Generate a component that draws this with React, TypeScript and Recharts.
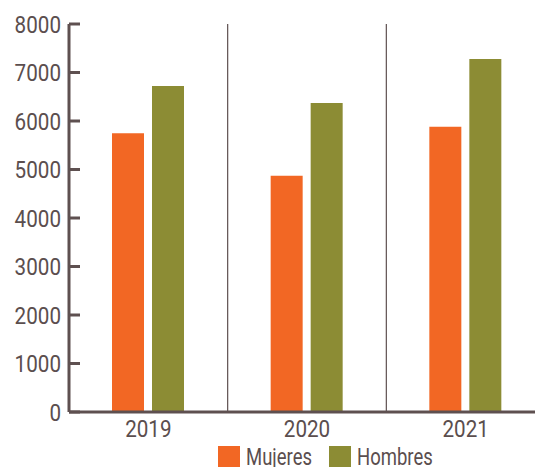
import {
  BarChart,
  Bar,
  XAxis,
  YAxis,
  CartesianGrid,
  Legend,
} from 'recharts';

const years = ['2019', '2020', '2021'];
const mujeres = [5750, 4870, 5880];
const hombres = [6720, 6370, 7280];
const yTicks = [0, 1000, 2000, 3000, 4000, 5000, 6000, 7000, 8000];

const data = years.map((year, i) => ({
  year,
  Mujeres: mujeres[i],
  Hombres: hombres[i],
}));

const AXIS = '#5e5050';
const TEXT = '#5b4e4e';
const FONT = 'Roboto, sans-serif';
const COLORS = { Mujeres: '#f26724', Hombres: '#8c8c34' };

// Roboto "condensada" a mano con scaleX
const YTick = ({ x, y, payload }: any) => (
  <g transform={`translate(${x},${y})`}>
    <text
      transform="scale(0.86,1)"
      textAnchor="end"
      dy="0.355em"
      fontSize={24}
      fontFamily={FONT}
      fill={TEXT}
    >
      {payload.value}
    </text>
  </g>
);

const XTick = ({ x, y, payload }: any) => (
  <g transform={`translate(${x},${y})`}>
    <text
      transform="scale(0.86,1)"
      textAnchor="middle"
      dy="0.71em"
      fontSize={24}
      fontFamily={FONT}
      fill={TEXT}
    >
      {payload.value}
    </text>
  </g>
);

const legendItems = [
  { key: 'Mujeres', width: 64 },
  { key: 'Hombres', width: 75 },
] as const;

const renderLegend = () => (
  <div
    style={{
      height: 48,
      paddingTop: 4,
      paddingLeft: 218,
      boxSizing: 'border-box',
      display: 'flex',
      gap: 19,
      fontFamily: FONT,
      fontSize: 24,
      color: TEXT,
      lineHeight: '22px',
    }}
  >
    {legendItems.map(({ key, width }) => (
      <div key={key} style={{ display: 'flex', alignItems: 'flex-start' }}>
        <span
          style={{
            width: 22,
            height: 22,
            background: COLORS[key],
            marginRight: 6,
            display: 'inline-block',
          }}
        />
        <span style={{ width, display: 'inline-block', whiteSpace: 'nowrap' }}>
          <span
            style={{
              display: 'inline-block',
              transform: 'scaleX(0.77)',
              transformOrigin: 'left',
            }}
          >
            {key}
          </span>
        </span>
      </div>
    ))}
  </div>
);

const App = () => {
  return (
    <div
      style={{
        position: 'absolute',
        left: 0,
        top: 0,
        width: 535,
        height: 467,
        overflow: 'hidden',
        background: '#fff',
      }}
    >
      <BarChart
        width={555}
        height={490}
        data={data}
        margin={{ top: 24, right: 10, left: 0, bottom: 0 }}
        barGap={8}
        barSize={32}
      >
        <CartesianGrid
          horizontal={false}
          stroke={AXIS}
          strokeWidth={1.2}
          verticalCoordinatesGenerator={({ offset }) =>
            years
              .slice(1)
              .map((_, i) => (offset?.left ?? 0) + ((i + 1) * (offset?.width ?? 0)) / years.length)
          }
        />
        <XAxis
          dataKey="year"
          height={30}
          tickLine={false}
          tickSize={0}
          tickMargin={8}
          axisLine={{ stroke: AXIS, strokeWidth: 3 }}
          tick={<XTick />}
        />
        <YAxis
          width={69}
          domain={[0, 8000]}
          ticks={yTicks}
          interval={0}
          tickSize={-11}
          tickMargin={19}
          axisLine={{ stroke: AXIS, strokeWidth: 3 }}
          tickLine={{ stroke: AXIS, strokeWidth: 3 }}
          tick={<YTick />}
        />
        <Legend
          verticalAlign="bottom"
          content={renderLegend}
          wrapperStyle={{ left: 0, width: 555 }}
        />
        <Bar
          dataKey="Mujeres"
          fill={COLORS.Mujeres}
          isAnimationActive={false}
        />
        <Bar
          dataKey="Hombres"
          fill={COLORS.Hombres}
          isAnimationActive={false}
        />
      </BarChart>
    </div>
  );
};

export default App;
